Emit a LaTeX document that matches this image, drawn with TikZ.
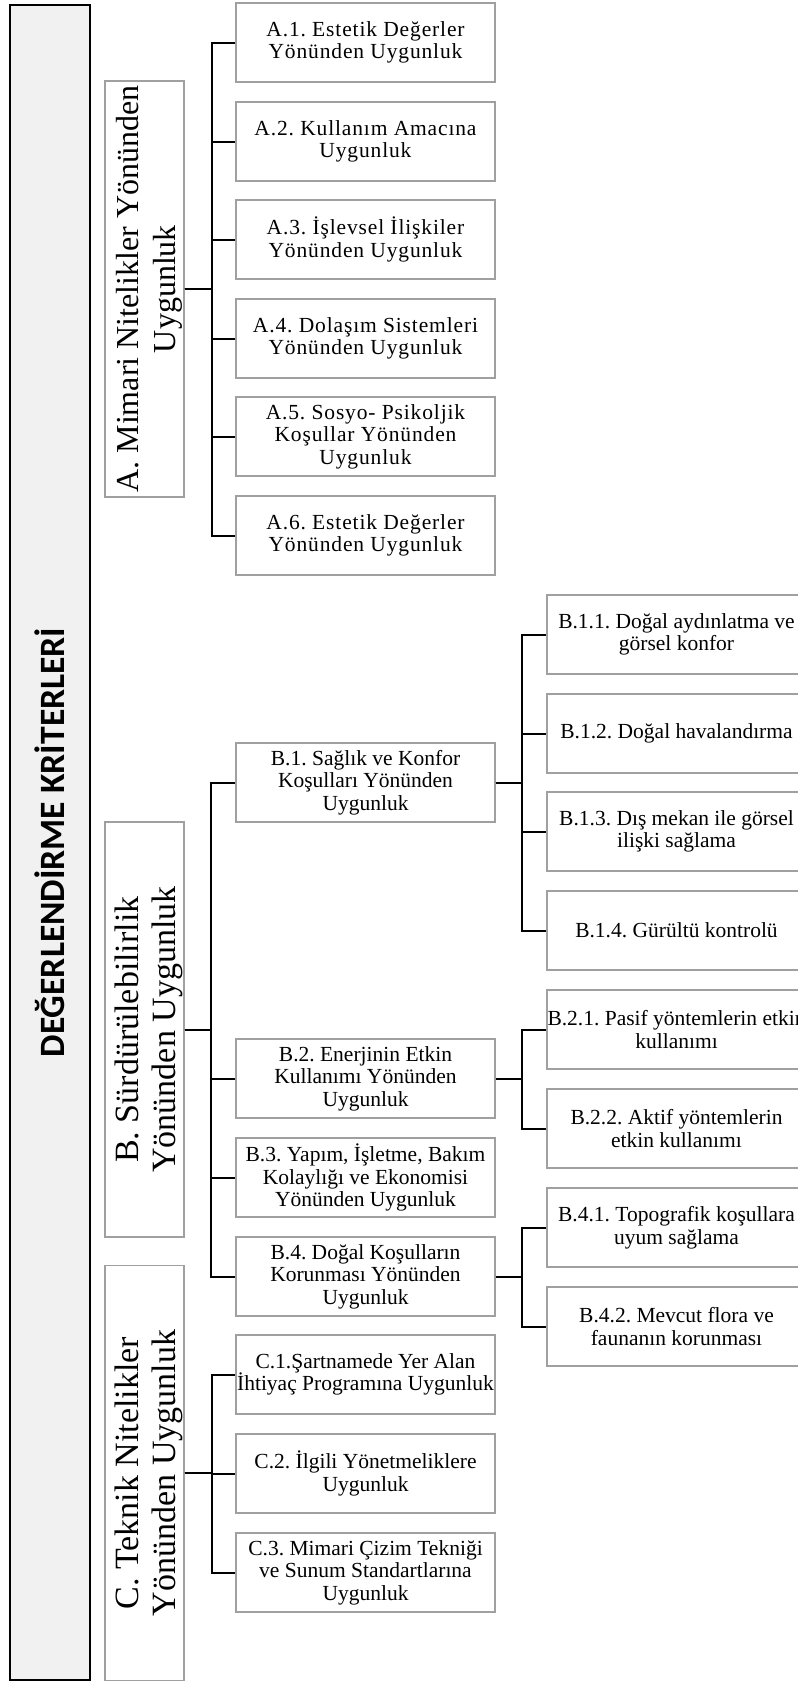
\documentclass[tikz,border=0pt]{standalone}
\usepackage{fontspec}
\setmainfont{Liberation Serif}
\newfontfamily\titlefont{Carlito}
\definecolor{boxgray}{RGB}{160,160,160}
\definecolor{outerfill}{RGB}{241,241,241}
\frenchspacing
\begin{document}
\begin{tikzpicture}[x=1pt,y=-1pt,
  leaf/.style={draw=boxgray, line width=1.2pt, fill=white, minimum width=259pt, minimum height=79pt,
    inner sep=0pt, align=center, font=\fontsize{21.5}{22.6}\selectfont},
  leafA/.style={leaf, font=\fontsize{21.5}{22.6}\selectfont\addfontfeature{LetterSpace=4}},
  grp/.style={draw=boxgray, line width=1.2pt, fill=white, rotate=90, minimum width=415pt, minimum height=79pt,
    inner sep=0pt},
  grplabel/.style={rotate=90, inner sep=0pt, align=center, font=\fontsize{34}{37.5}\selectfont},
  rootbox/.style={draw=black, line width=2.6pt, fill=outerfill, rotate=90, minimum width=1675pt, minimum height=80pt,
    inner sep=0pt, font=\titlefont\bfseries\fontsize{35.6}{40}\selectfont},
  conn/.style={line width=2pt, black}]
\useasboundingbox (0,0) rectangle (798,1682);
\node[rootbox] (root) at (50,842.5) {DEĞERLENDİRME KRİTERLERİ};
% group boxes
\node[grp, minimum width=416pt] (A) at (144.5,289) {};
\node[grplabel, font=\fontsize{32}{37}\selectfont] (Alabel) at (149,289) {A. Mimari Nitelikler Yönünden\\Uygunluk};
\node[grp] (B) at (144.5,1029.5) {};
\node[grplabel] (Blabel) at (149,1029.5) {B. Sürdürülebilirlik\\Yönünden Uygunluk};
\node[grp] (C) at (144.5,1473) {};
\node[grplabel] (Clabel) at (149,1473) {C. Teknik Nitelikler\\Yönünden Uygunluk};
% A children
\node[leafA] (A1) at (365.5,42.5) {A.1. Estetik Değerler\\Yönünden Uygunluk};
\node[leafA] (A2) at (365.5,141.5) {A.2. Kullanım Amacına\\Uygunluk};
\node[leafA] (A3) at (365.5,239.5) {A.3. İşlevsel İlişkiler\\Yönünden Uygunluk};
\node[leafA] (A4) at (365.5,338.5) {A.4. Dolaşım Sistemleri\\Yönünden Uygunluk};
\node[leafA] (A5) at (365.5,436.5) {A.5. Sosyo- Psikoljik\\Koşullar Yönünden\\Uygunluk};
\node[leafA] (A6) at (365.5,535.5) {A.6. Estetik Değerler\\Yönünden Uygunluk};
% B children
\node[leaf] (B1) at (365.5,782.5) {B.1. Sağlık ve Konfor\\Koşulları Yönünden\\Uygunluk};
\node[leaf] (B2) at (365.5,1078.5) {B.2. Enerjinin Etkin\\Kullanımı Yönünden\\Uygunluk};
\node[leaf] (B3) at (365.5,1177.5) {B.3. Yapım, İşletme, Bakım\\Kolaylığı ve Ekonomisi\\Yönünden Uygunluk};
\node[leaf] (B4) at (365.5,1276.5) {B.4. Doğal Koşulların\\Korunması Yönünden\\Uygunluk};
% C children
\node[leaf] (C1) at (365.5,1374.5) {C.1.Şartnamede Yer Alan\\İhtiyaç Programına Uygunluk};
\node[leaf] (C2) at (365.5,1473.5) {C.2. İlgili Yönetmeliklere\\Uygunluk};
\node[leaf] (C3) at (365.5,1572.5) {C.3. Mimari Çizim Tekniği\\ve Sunum Standartlarına\\Uygunluk};
% third level
\node[leaf] (B11) at (676.5,634.5) {B.1.1. Doğal aydınlatma ve\\görsel konfor};
\node[leaf] (B12) at (676.5,733.5) {B.1.2. Doğal havalandırma};
\node[leaf] (B13) at (676.5,831.5) {B.1.3. Dış mekan ile görsel\\ilişki sağlama};
\node[leaf] (B14) at (676.5,930.5) {B.1.4. Gürültü kontrolü};
\node[leaf] (B21) at (676.5,1029.5) {B.2.1. Pasif yöntemlerin etkin\\kullanımı};
\node[leaf] (B22) at (676.5,1128.5) {B.2.2. Aktif yöntemlerin\\etkin kullanımı};
\node[leaf] (B41) at (676.5,1227.5) {B.4.1. Topografik koşullara\\uyum sağlama};
\node[leaf] (B42) at (676.5,1326.5) {B.4.2. Mevcut flora ve\\faunanın korunması};
% connectors
\foreach \c in {A1,A2,A3,A4,A5,A6} \draw[conn] (A.south) -- ++(27,0) |- (\c.west);
\foreach \c in {B1,B2,B3,B4} \draw[conn] (B.south) -- ++(26,0) |- (\c.west);
\foreach \c in {C1,C2,C3} \draw[conn] (C.south) -- ++(27,0) |- (\c.west);
\foreach \c in {B11,B12,B13,B14} \draw[conn] (B1.east) -- ++(26,0) |- (\c.west);
\foreach \c in {B21,B22} \draw[conn] (B2.east) -- ++(26,0) |- (\c.west);
\foreach \c in {B41,B42} \draw[conn] (B4.east) -- ++(26,0) |- (\c.west);
\end{tikzpicture}
\end{document}
